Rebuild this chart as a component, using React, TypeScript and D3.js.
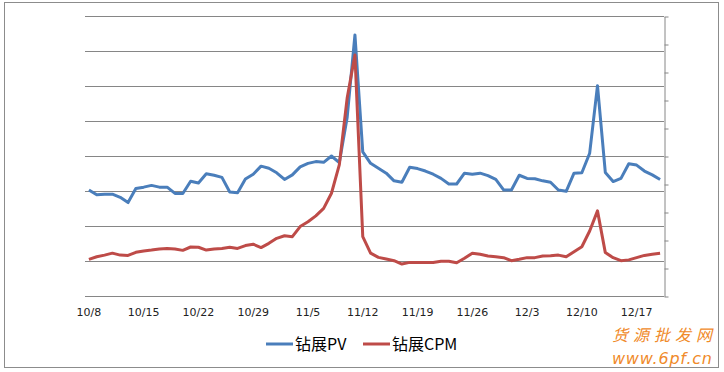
import { useEffect, useRef } from 'react';
import * as d3 from 'd3';

// daily data 10/8 .. 12/20
const startDate = new Date(2013, 9, 8);
const endDate = new Date(2013, 11, 21);
const categories = d3.timeDays(startDate, endDate).map(d3.timeFormat('%-m/%-d'));

const tickLabels = ['10/8', '10/15', '10/22', '10/29', '11/5', '11/12', '11/19', '11/26', '12/3', '12/10', '12/17'];

// 钻展PV (left axis)
const pvValues = [
  3.03, 2.89, 2.91, 2.91, 2.82, 2.67, 3.07, 3.11, 3.16, 3.11,
  3.11, 2.93, 2.93, 3.28, 3.23, 3.49, 3.45, 3.39, 2.97, 2.95,
  3.34, 3.48, 3.71, 3.65, 3.52, 3.33, 3.46, 3.69, 3.79, 3.84,
  3.82, 4.0, 3.81, 5.09, 7.46, 4.12, 3.79, 3.65, 3.51, 3.29,
  3.25, 3.68, 3.64, 3.57, 3.48, 3.36, 3.2, 3.2, 3.51, 3.48,
  3.51, 3.44, 3.33, 3.03, 3.03, 3.45, 3.36, 3.35, 3.29, 3.25,
  3.03, 2.99, 3.51, 3.52, 4.08, 6.01, 3.53, 3.27, 3.36, 3.78,
  3.74, 3.57, 3.46, 3.33,
];

// 钻展CPM (right axis)
const cpmValues = [
  1.31, 1.4, 1.46, 1.53, 1.46, 1.45, 1.56, 1.61, 1.64, 1.68,
  1.7, 1.68, 1.63, 1.75, 1.74, 1.64, 1.68, 1.7, 1.74, 1.7,
  1.8, 1.85, 1.73, 1.88, 2.06, 2.15, 2.12, 2.48, 2.65, 2.86,
  3.13, 3.67, 4.68, 7.06, 8.61, 2.12, 1.53, 1.38, 1.32, 1.26,
  1.14, 1.2, 1.2, 1.2, 1.2, 1.24, 1.24, 1.19, 1.35, 1.53,
  1.49, 1.43, 1.4, 1.37, 1.26, 1.31, 1.37, 1.37, 1.43, 1.44,
  1.46, 1.4, 1.58, 1.76, 2.32, 3.04, 1.55, 1.37, 1.26, 1.29,
  1.37, 1.45, 1.49, 1.53,
];

const seriesNames = ['钻展PV', '钻展CPM'];
const seriesColors = ['#4a7ebb', '#be4b48'];

export default function App() {
  const svgRef = useRef(null);

  useEffect(() => {
    const svg = d3.select(svgRef.current);
    const width = 724;
    const height = 372;
    const plot = { left: 85, right: 664, top: 16, bottom: 296 };
    const grey = '#868686';

    svg.attr('width', width).attr('height', height);
    svg.selectAll('*').remove();

    svg.append('rect').attr('width', width).attr('height', height).attr('fill', '#fff');
    svg
      .append('rect')
      .attr('x', 4.5)
      .attr('y', 2.5)
      .attr('width', 714)
      .attr('height', 365)
      .attr('fill', 'none')
      .attr('stroke', '#8c8c8c');

    const x = d3
      .scaleBand()
      .domain(categories)
      .range([plot.left, plot.right]);
    const yLeft = d3.scaleLinear().domain([0, 8]).range([plot.bottom, plot.top]);
    const yRight = d3.scaleLinear().domain([0, 10]).range([plot.bottom, plot.top]);

    // gridlines
    svg
      .append('g')
      .selectAll('line')
      .data(yLeft.ticks(8))
      .join('line')
      .attr('x1', plot.left)
      .attr('x2', plot.right)
      .attr('y1', (d) => Math.round(yLeft(d)) + 0.5)
      .attr('y2', (d) => Math.round(yLeft(d)) + 0.5)
      .attr('stroke', grey);

    // right axis, ticks only
    const right = svg
      .append('g')
      .attr('transform', `translate(${plot.right + 0.5},0.5)`)
      .call(d3.axisRight(yRight).ticks(10).tickSize(4).tickSizeOuter(0).tickFormat(() => ''));
    right.selectAll('path, line').attr('stroke', grey);

    // bottom axis labels
    const bottom = svg
      .append('g')
      .attr('transform', `translate(0,${plot.bottom})`)
      .call(
        d3
          .axisBottom(x)
          .tickValues(tickLabels)
          .tickSize(0)
          .tickPadding(12),
      );
    bottom.select('.domain').remove();
    bottom
      .selectAll('text')
      .attr('font-family', 'DejaVu Sans')
      .attr('font-size', 11)
      .attr('fill', '#222');

    const cx = (d, i) => x(categories[i]) + x.bandwidth() / 2;

    const linePV = d3.line().x(cx).y((d) => yLeft(d));
    const lineCPM = d3.line().x(cx).y((d) => yRight(d));

    svg
      .append('path')
      .datum(pvValues)
      .attr('fill', 'none')
      .attr('stroke', seriesColors[0])
      .attr('stroke-width', 3)
      .attr('stroke-linejoin', 'round')
      .attr('d', linePV);

    svg
      .append('path')
      .datum(cpmValues)
      .attr('fill', 'none')
      .attr('stroke', seriesColors[1])
      .attr('stroke-width', 3)
      .attr('stroke-linejoin', 'round')
      .attr('d', lineCPM);

    // legend
    const legend = svg.append('g').attr('transform', 'translate(266,344)');
    const legendX = [0, 97];
    seriesNames.forEach((name, i) => {
      const g = legend.append('g').attr('transform', `translate(${legendX[i]},0)`);
      g.append('line')
        .attr('x1', 0)
        .attr('x2', 27)
        .attr('stroke', seriesColors[i])
        .attr('stroke-width', 3);
      g.append('text')
        .attr('x', 29)
        .attr('dy', '0.35em')
        .attr('font-family', 'Noto Sans CJK SC')
        .attr('font-size', 16)
        .attr('fill', '#000')
        .text(name);
    });

    // watermark
    const wm = svg.append('g').attr('fill', '#f08a2a').attr('font-style', 'italic');
    wm.append('text')
      .attr('x', 612)
      .attr('y', 341)
      .attr('font-family', 'Noto Sans CJK SC')
      .attr('font-size', 16)
      .attr('textLength', 100)
      .text('货源批发网');
    wm.append('text')
      .attr('x', 612)
      .attr('y', 364)
      .attr('font-family', 'DejaVu Sans')
      .attr('font-size', 16)
      .attr('textLength', 100)
      .text('www.6pf.cn');
  }, []);

  return <svg ref={svgRef} style={{ position: 'absolute', left: 0, top: 0 }}></svg>;
}
